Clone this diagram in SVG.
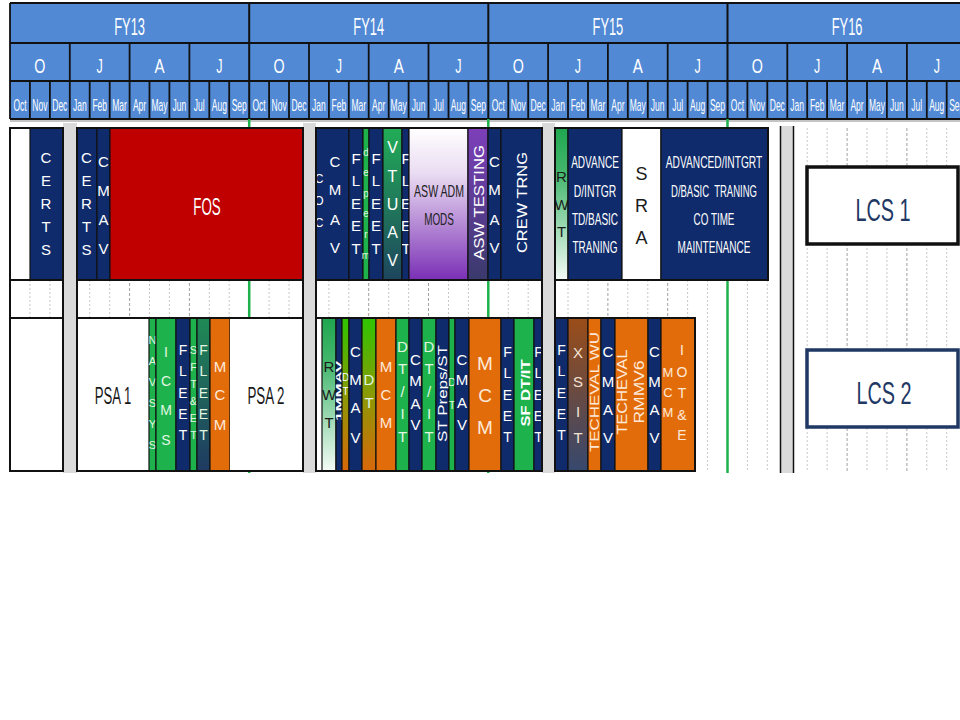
<svg xmlns="http://www.w3.org/2000/svg" width="960" height="720" viewBox="0 0 960 720">
<defs>
<style>
text{font-family:"Liberation Sans",Arial,sans-serif}
.c{text-anchor:middle}
.w{fill:#ffffff}
.dk{fill:#1a1a1a}
.lg{fill:#e2f6e2}
.lo{fill:#fde9d9}
.mo{font-size:17px;fill:#ffffff;text-anchor:middle}
.qt{font-size:21px;fill:#ffffff;text-anchor:middle}
.fy{font-size:23px;fill:#ffffff;text-anchor:middle}
.s10{font-size:10px}.s11{font-size:11px}.s12{font-size:12px}.s13{font-size:13px}.s14{font-size:14px}.s15{font-size:15px}.s16{font-size:16px}.s17{font-size:17px}.s18{font-size:18px}.s19{font-size:19px}
.seg{stroke:#111;stroke-width:1.2}
.nv{fill:#0f2b6b}
.gr{fill:#1db24c}
.or{fill:#e36c0a}
.grid{stroke:#c8c8c8;stroke-width:1;stroke-dasharray:2 2;fill:none}
.gridq{stroke:#a0a0a0;stroke-width:1;stroke-dasharray:3 2;fill:none}
.sep{fill:#dadada}
.box{fill:none;stroke:#111;stroke-width:2}
.hl{stroke:#111;fill:none}
</style>
<linearGradient id="gVT" x1="0" y1="0" x2="0" y2="1"><stop offset="0" stop-color="#22ad57"/><stop offset="1" stop-color="#1e455e"/></linearGradient>
<linearGradient id="gMODS" x1="0" y1="0" x2="0" y2="1"><stop offset="0" stop-color="#ffffff"/><stop offset="0.3" stop-color="#eadcf2"/><stop offset="1" stop-color="#7a2fb5"/></linearGradient>
<linearGradient id="gTEST" x1="0" y1="0" x2="0" y2="1"><stop offset="0" stop-color="#7d3fba"/><stop offset="1" stop-color="#3a3a6c"/></linearGradient>
<linearGradient id="gRWT" x1="0" y1="0" x2="0" y2="1"><stop offset="0" stop-color="#1fa64f"/><stop offset="0.3" stop-color="#45b76e"/><stop offset="1" stop-color="#f4fbf6"/></linearGradient>
<linearGradient id="gGO" x1="0" y1="0" x2="0" y2="1"><stop offset="0" stop-color="#2ec400"/><stop offset="0.5" stop-color="#8a9a05"/><stop offset="1" stop-color="#d8670a"/></linearGradient>
<linearGradient id="gTEAL" x1="0" y1="0" x2="0" y2="1"><stop offset="0" stop-color="#1f8a55"/><stop offset="1" stop-color="#1f3a62"/></linearGradient>
<linearGradient id="gXS" x1="0" y1="0" x2="0" y2="1"><stop offset="0" stop-color="#9b4d18"/><stop offset="1" stop-color="#36486e"/></linearGradient>
<clipPath id="cpCOC"><rect x="316" y="128" width="33" height="152"/></clipPath>
<clipPath id="cpFL3"><rect x="402" y="128" width="7" height="152"/></clipPath>
<clipPath id="cpFLb"><rect x="534" y="318" width="8" height="153"/></clipPath>
</defs>

<rect x="0" y="0" width="960" height="720" fill="#ffffff"/>

<g id="header">
<rect x="10" y="3" width="952" height="116" fill="#5189d5"/>
<path class="hl" stroke-width="1.8" d="M10 3H960M10 43H960M10 81H960M10 119H960M10 3V119"/>
<path class="hl" stroke-width="2" d="M249.2 3V119M488.3 3V119M727.5 3V119"/>
<path class="hl" stroke-width="1.8" d="M69.8 43V119M129.6 43V119M189.4 43V119M309 43V119M368.7 43V119M428.5 43V119M548.1 43V119M607.9 43V119M667.7 43V119M787.3 43V119M847.1 43V119M906.9 43V119"/>
<path class="hl" stroke-width="1.8" d="M29.9 81V119M49.9 81V119M89.7 81V119M109.7 81V119M149.5 81V119M169.4 81V119M209.3 81V119M229.2 81V119M269.1 81V119M289 81V119M328.9 81V119M348.8 81V119M388.7 81V119M408.6 81V119M448.5 81V119M468.4 81V119M508.3 81V119M528.2 81V119M568 81V119M588 81V119M627.8 81V119M647.8 81V119M687.6 81V119M707.6 81V119M747.4 81V119M767.3 81V119M807.2 81V119M827.1 81V119M867 81V119M886.9 81V119M926.8 81V119M946.7 81V119"/>
<text class="fy" transform="translate(129.6 35) scale(0.56 1)">FY13</text>
<text class="fy" transform="translate(368.7 35) scale(0.56 1)">FY14</text>
<text class="fy" transform="translate(607.9 35) scale(0.56 1)">FY15</text>
<text class="fy" transform="translate(847.1 35) scale(0.56 1)">FY16</text>
<text class="qt" transform="translate(39.9 73) scale(0.68 1)">O</text>
<text class="qt" transform="translate(99.7 73) scale(0.6 1)">J</text>
<text class="qt" transform="translate(159.5 73) scale(0.72 1)">A</text>
<text class="qt" transform="translate(219.3 73) scale(0.6 1)">J</text>
<text class="qt" transform="translate(279.1 73) scale(0.68 1)">O</text>
<text class="qt" transform="translate(338.9 73) scale(0.6 1)">J</text>
<text class="qt" transform="translate(398.7 73) scale(0.72 1)">A</text>
<text class="qt" transform="translate(458.5 73) scale(0.6 1)">J</text>
<text class="qt" transform="translate(518.2 73) scale(0.68 1)">O</text>
<text class="qt" transform="translate(578 73) scale(0.6 1)">J</text>
<text class="qt" transform="translate(637.8 73) scale(0.72 1)">A</text>
<text class="qt" transform="translate(697.6 73) scale(0.6 1)">J</text>
<text class="qt" transform="translate(757.4 73) scale(0.68 1)">O</text>
<text class="qt" transform="translate(817.2 73) scale(0.6 1)">J</text>
<text class="qt" transform="translate(877 73) scale(0.72 1)">A</text>
<text class="qt" transform="translate(936.8 73) scale(0.6 1)">J</text>
<text class="mo" transform="translate(20 111) scale(0.5 1)">Oct</text>
<text class="mo" transform="translate(39.9 111) scale(0.5 1)">Nov</text>
<text class="mo" transform="translate(59.8 111) scale(0.5 1)">Dec</text>
<text class="mo" transform="translate(79.8 111) scale(0.5 1)">Jan</text>
<text class="mo" transform="translate(99.7 111) scale(0.5 1)">Feb</text>
<text class="mo" transform="translate(119.6 111) scale(0.5 1)">Mar</text>
<text class="mo" transform="translate(139.5 111) scale(0.5 1)">Apr</text>
<text class="mo" transform="translate(159.5 111) scale(0.5 1)">May</text>
<text class="mo" transform="translate(179.4 111) scale(0.5 1)">Jun</text>
<text class="mo" transform="translate(199.3 111) scale(0.5 1)">Jul</text>
<text class="mo" transform="translate(219.3 111) scale(0.5 1)">Aug</text>
<text class="mo" transform="translate(239.2 111) scale(0.5 1)">Sep</text>
<text class="mo" transform="translate(259.1 111) scale(0.5 1)">Oct</text>
<text class="mo" transform="translate(279.1 111) scale(0.5 1)">Nov</text>
<text class="mo" transform="translate(299 111) scale(0.5 1)">Dec</text>
<text class="mo" transform="translate(318.9 111) scale(0.5 1)">Jan</text>
<text class="mo" transform="translate(338.8 111) scale(0.5 1)">Feb</text>
<text class="mo" transform="translate(358.8 111) scale(0.5 1)">Mar</text>
<text class="mo" transform="translate(378.7 111) scale(0.5 1)">Apr</text>
<text class="mo" transform="translate(398.6 111) scale(0.5 1)">May</text>
<text class="mo" transform="translate(418.6 111) scale(0.5 1)">Jun</text>
<text class="mo" transform="translate(438.5 111) scale(0.5 1)">Jul</text>
<text class="mo" transform="translate(458.4 111) scale(0.5 1)">Aug</text>
<text class="mo" transform="translate(478.4 111) scale(0.5 1)">Sep</text>
<text class="mo" transform="translate(498.3 111) scale(0.5 1)">Oct</text>
<text class="mo" transform="translate(518.2 111) scale(0.5 1)">Nov</text>
<text class="mo" transform="translate(538.1 111) scale(0.5 1)">Dec</text>
<text class="mo" transform="translate(558.1 111) scale(0.5 1)">Jan</text>
<text class="mo" transform="translate(578 111) scale(0.5 1)">Feb</text>
<text class="mo" transform="translate(597.9 111) scale(0.5 1)">Mar</text>
<text class="mo" transform="translate(617.9 111) scale(0.5 1)">Apr</text>
<text class="mo" transform="translate(637.8 111) scale(0.5 1)">May</text>
<text class="mo" transform="translate(657.7 111) scale(0.5 1)">Jun</text>
<text class="mo" transform="translate(677.7 111) scale(0.5 1)">Jul</text>
<text class="mo" transform="translate(697.6 111) scale(0.5 1)">Aug</text>
<text class="mo" transform="translate(717.5 111) scale(0.5 1)">Sep</text>
<text class="mo" transform="translate(737.4 111) scale(0.5 1)">Oct</text>
<text class="mo" transform="translate(757.4 111) scale(0.5 1)">Nov</text>
<text class="mo" transform="translate(777.3 111) scale(0.5 1)">Dec</text>
<text class="mo" transform="translate(797.2 111) scale(0.5 1)">Jan</text>
<text class="mo" transform="translate(817.2 111) scale(0.5 1)">Feb</text>
<text class="mo" transform="translate(837.1 111) scale(0.5 1)">Mar</text>
<text class="mo" transform="translate(857 111) scale(0.5 1)">Apr</text>
<text class="mo" transform="translate(877 111) scale(0.5 1)">May</text>
<text class="mo" transform="translate(896.9 111) scale(0.5 1)">Jun</text>
<text class="mo" transform="translate(916.8 111) scale(0.5 1)">Jul</text>
<text class="mo" transform="translate(936.7 111) scale(0.5 1)">Aug</text>
<text class="mo" transform="translate(956.7 111) scale(0.5 1)">Sep</text>
</g>

<g id="grid">
<line x1="10" y1="121" x2="960" y2="121" stroke="#b0b0b0" stroke-width="1.5"/>
<path class="grid" d="M29.9 128V472M49.9 128V472M89.7 128V472M109.7 128V472M149.5 128V472M169.4 128V472M209.3 128V472M229.2 128V472M269.1 128V472M289 128V472M328.9 128V472M348.8 128V472M388.7 128V472M408.6 128V472M448.5 128V472M468.4 128V472M508.3 128V472M528.2 128V472M568 128V472M588 128V472M627.8 128V472M647.8 128V472M687.6 128V472M707.6 128V472M747.4 128V472M767.3 128V472M807.2 128V472M827.1 128V472M867 128V472M886.9 128V472M926.8 128V472M946.7 128V472"/>
<path class="gridq" d="M69.8 128V472M129.6 128V472M189.4 128V472M309 128V472M368.7 128V472M428.5 128V472M548.1 128V472M607.9 128V472M667.7 128V472M787.3 128V472M847.1 128V472M906.9 128V472"/>
<path d="M249.2 119V473M488.3 119V473M727.5 119V473" stroke="#1db24c" stroke-width="2.5" fill="none"/>
<rect class="sep" x="63" y="123" width="14" height="350"/>
<rect class="sep" x="303" y="123" width="13" height="350"/>
<rect class="sep" x="542" y="123" width="13" height="350"/>
<rect class="sep" x="780.5" y="126" width="13" height="347"/>
<path class="hl" stroke-width="1.5" d="M780.5 126V473M793.5 126V473"/>
</g>

<g id="group-a">
<rect x="10" y="128" width="20" height="152" fill="#ffffff"/>
<rect x="10" y="318" width="53" height="153" fill="#ffffff"/>
<g id="a-certs"><rect class="seg nv" x="30" y="128" width="33" height="152"/>
<text class="w s15 c"><tspan x="46" y="163">C</tspan><tspan x="46" y="186">E</tspan><tspan x="46" y="209">R</tspan><tspan x="46" y="232">T</tspan><tspan x="46" y="255">S</tspan></text></g>
<rect class="box" x="10" y="128" width="53" height="343"/>
<path class="hl" stroke-width="2" d="M10 280H63M10 318H63"/>
</g>

<g id="group-b">
<g id="b-certs"><rect class="seg nv" x="77" y="128" width="20" height="152"/>
<text class="w s15 c"><tspan x="86.5" y="163">C</tspan><tspan x="86.5" y="186">E</tspan><tspan x="86.5" y="209">R</tspan><tspan x="86.5" y="232">T</tspan><tspan x="86.5" y="255">S</tspan></text></g>
<g id="b-cmav"><rect class="seg nv" x="97" y="128" width="13" height="152"/>
<text class="w s15 c"><tspan x="103.5" y="167">C</tspan><tspan x="103.5" y="196">M</tspan><tspan x="103.5" y="225">A</tspan><tspan x="103.5" y="254">V</tspan></text></g>
<g id="b-fos"><rect class="seg" fill="#c00000" x="110" y="128" width="193" height="152"/>
<text class="w c" font-size="23" transform="translate(207 215) scale(0.58 1)">FOS</text></g>

<g id="b-psa1"><rect x="77" y="318" width="72" height="153" fill="#ffffff"/>
<text class="dk c" font-size="23" transform="translate(113 404) scale(0.57 1)">PSA 1</text></g>
<g id="b-navsys"><rect class="seg gr" x="149" y="318" width="7" height="153"/>
<text class="lg s11 c"><tspan x="152.5" y="344">N</tspan><tspan x="152.5" y="365">A</tspan><tspan x="152.5" y="386">V</tspan><tspan x="152.5" y="407">S</tspan><tspan x="152.5" y="428">Y</tspan><tspan x="152.5" y="449">S</tspan></text></g>
<g id="b-icms"><rect class="seg gr" x="156" y="318" width="20" height="153"/>
<text class="lg s14 c"><tspan x="166" y="357">I</tspan><tspan x="166" y="386">C</tspan><tspan x="166" y="415">M</tspan><tspan x="166" y="445">S</tspan></text></g>
<g id="b-fleet1"><rect class="seg nv" x="176" y="318" width="14" height="153"/>
<text class="w s14 c"><tspan x="183" y="355">F</tspan><tspan x="183" y="376">L</tspan><tspan x="183" y="397.5">E</tspan><tspan x="183" y="419">E</tspan><tspan x="183" y="440">T</tspan></text></g>
<g id="b-sftet"><rect class="seg gr" x="190" y="318" width="7" height="153"/>
<text class="lg s11 c"><tspan x="193.5" y="354">S</tspan><tspan x="193.5" y="371">F</tspan><tspan x="193.5" y="388">T</tspan><tspan x="193.5" y="405">&amp;</tspan><tspan x="193.5" y="422">E</tspan><tspan x="193.5" y="439">T</tspan></text></g>
<g id="b-fleet2"><rect class="seg" fill="url(#gTEAL)" x="197" y="318" width="13" height="153"/>
<text class="lg s14 c"><tspan x="203.5" y="355">F</tspan><tspan x="203.5" y="376">L</tspan><tspan x="203.5" y="397.5">E</tspan><tspan x="203.5" y="419">E</tspan><tspan x="203.5" y="440">T</tspan></text></g>
<g id="b-mcm"><rect class="seg or" x="210" y="318" width="20" height="153"/>
<text class="lo s15 c"><tspan x="220" y="372">M</tspan><tspan x="220" y="400">C</tspan><tspan x="220" y="430">M</tspan></text></g>
<g id="b-psa2"><rect x="230" y="318" width="73" height="153" fill="#ffffff"/>
<text class="dk c" font-size="23" transform="translate(266 404) scale(0.58 1)">PSA 2</text></g>
<rect class="box" x="77" y="128" width="226" height="343"/>
<path class="hl" stroke-width="2" d="M77 280H303M77 318H303"/>
</g>

<g id="group-c">
<g id="c-coc-cmav"><rect class="seg nv" x="316" y="128" width="33" height="152"/>
<text class="w s12 c" clip-path="url(#cpCOC)"><tspan x="319" y="183">C</tspan><tspan x="319" y="205">O</tspan><tspan x="319" y="227">C</tspan></text>
<text class="w s15 c"><tspan x="335" y="167">C</tspan><tspan x="335" y="195">M</tspan><tspan x="335" y="225">A</tspan><tspan x="335" y="253">V</tspan></text></g>
<g id="c-fleet1"><rect class="seg nv" x="349" y="128" width="14" height="152"/>
<text class="w s15 c"><tspan x="356" y="163.5">F</tspan><tspan x="356" y="186">L</tspan><tspan x="356" y="208.5">E</tspan><tspan x="356" y="231">E</tspan><tspan x="356" y="253.5">T</tspan></text></g>
<g id="c-deperm"><rect class="seg gr" x="363" y="128" width="6" height="152"/>
<text class="lg s10 c"><tspan x="366" y="155.6">d</tspan><tspan x="366" y="176.2">e</tspan><tspan x="366" y="196.8">p</tspan><tspan x="366" y="217.4">e</tspan><tspan x="366" y="238">r</tspan><tspan x="366" y="258.6">m</tspan></text></g>
<g id="c-fleet2"><rect class="seg nv" x="369" y="128" width="14" height="152"/>
<text class="w s15 c"><tspan x="376" y="163.5">F</tspan><tspan x="376" y="186">L</tspan><tspan x="376" y="208.5">E</tspan><tspan x="376" y="231">E</tspan><tspan x="376" y="253.5">T</tspan></text></g>
<g id="c-vtuav"><rect class="seg" fill="url(#gVT)" x="383" y="128" width="19" height="152"/>
<text class="w s16 c"><tspan x="392.5" y="153">V</tspan><tspan x="392.5" y="182">T</tspan><tspan x="392.5" y="210">U</tspan><tspan x="392.5" y="238">A</tspan><tspan x="392.5" y="266">V</tspan></text></g>
<g id="c-fleet3"><rect class="seg nv" x="402" y="128" width="7" height="152"/>
<text class="w s15 c" clip-path="url(#cpFL3)"><tspan x="406" y="163.5">F</tspan><tspan x="406" y="186">L</tspan><tspan x="406" y="208.5">E</tspan><tspan x="406" y="231">E</tspan><tspan x="406" y="253.5">T</tspan></text></g>
<g id="c-aswadm"><rect class="seg" fill="url(#gMODS)" x="409" y="128" width="59" height="152"/>
<text class="c" fill="#222" font-size="16" transform="translate(439 197) scale(0.66 1)">ASW ADM</text>
<text class="c" fill="#222" font-size="16" transform="translate(439 225) scale(0.62 1)">MODS</text></g>
<g id="c-aswtest"><rect class="seg" fill="url(#gTEST)" x="468" y="128" width="20" height="152"/>
<text class="w s14 c" transform="translate(484 202.5) rotate(-90)" textLength="115" lengthAdjust="spacingAndGlyphs">ASW TESTING</text></g>
<g id="c-cmav2"><rect class="seg nv" x="488" y="128" width="13" height="152"/>
<text class="w s15 c"><tspan x="494.5" y="167">C</tspan><tspan x="494.5" y="195">M</tspan><tspan x="494.5" y="225">A</tspan><tspan x="494.5" y="253">V</tspan></text></g>
<g id="c-crew"><rect class="seg nv" x="501" y="128" width="41" height="152"/>
<text class="w s14 c" transform="translate(527 202.5) rotate(-90)" textLength="101" lengthAdjust="spacingAndGlyphs">CREW TRNG</text></g>

<rect x="316" y="318" width="6" height="153" fill="#ffffff"/>
<g id="c-rwt"><rect class="seg" fill="url(#gRWT)" x="322" y="318" width="14" height="153"/>
<text class="dk s15 c"><tspan x="329" y="372">R</tspan><tspan x="329" y="400">W</tspan><tspan x="329" y="428">T</tspan></text></g>
<g id="c-mmav"><rect class="seg nv" x="336" y="318" width="6" height="153"/>
<text class="w c" font-size="9" font-weight="bold" transform="translate(342 391) rotate(-90)" textLength="60" lengthAdjust="spacingAndGlyphs">1MMAV</text></g>
<g id="c-dt1"><rect class="seg" fill="url(#gGO)" x="342" y="318" width="7" height="153"/>
<text class="w s10 c"><tspan x="345.5" y="381">D</tspan><tspan x="345.5" y="395">T</tspan></text></g>
<g id="c-cmav3"><rect class="seg nv" x="349" y="318" width="13" height="153"/>
<text class="w s15 c"><tspan x="355.5" y="357">C</tspan><tspan x="355.5" y="385">M</tspan><tspan x="355.5" y="413">A</tspan><tspan x="355.5" y="443">V</tspan></text></g>
<g id="c-dt2"><rect class="seg" fill="url(#gGO)" x="362" y="318" width="14" height="153"/>
<text class="lg s15 c"><tspan x="369" y="385">D</tspan><tspan x="369" y="408">T</tspan></text></g>
<g id="c-mcm1"><rect class="seg or" x="376" y="318" width="20" height="153"/>
<text class="lo s15 c"><tspan x="386" y="372">M</tspan><tspan x="386" y="400">C</tspan><tspan x="386" y="428">M</tspan></text></g>
<g id="c-dtit1"><rect class="seg gr" x="396" y="318" width="13" height="153"/>
<text class="lg s15 c"><tspan x="402.5" y="352">D</tspan><tspan x="402.5" y="374">T</tspan><tspan x="402.5" y="397">/</tspan><tspan x="402.5" y="419">I</tspan><tspan x="402.5" y="442">T</tspan></text></g>
<g id="c-cmav4"><rect class="seg nv" x="409" y="318" width="13" height="153"/>
<text class="w s15 c"><tspan x="415.5" y="365">C</tspan><tspan x="415.5" y="386">M</tspan><tspan x="415.5" y="409">A</tspan><tspan x="415.5" y="430">V</tspan></text></g>
<g id="c-dtit2"><rect class="seg gr" x="422" y="318" width="14" height="153"/>
<text class="lg s15 c"><tspan x="429" y="352">D</tspan><tspan x="429" y="374">T</tspan><tspan x="429" y="397">/</tspan><tspan x="429" y="419">I</tspan><tspan x="429" y="442">T</tspan></text></g>
<g id="c-stpreps"><rect class="seg nv" x="436" y="318" width="13" height="153"/>
<text class="w s13 c" transform="translate(447 393.5) rotate(-90)" textLength="97" lengthAdjust="spacingAndGlyphs">ST Preps/ST</text></g>
<g id="c-dt3"><rect class="seg gr" x="449" y="318" width="6" height="153"/>
<text class="lg s11 c"><tspan x="452" y="386">D</tspan><tspan x="452" y="409">T</tspan></text></g>
<g id="c-cmav5"><rect class="seg nv" x="455" y="318" width="14" height="153"/>
<text class="w s15 c"><tspan x="462" y="365">C</tspan><tspan x="462" y="385">M</tspan><tspan x="462" y="408">A</tspan><tspan x="462" y="430">V</tspan></text></g>
<g id="c-mcm2"><rect class="seg or" x="469" y="318" width="32" height="153"/>
<text class="lo s19 c"><tspan x="485" y="370">M</tspan><tspan x="485" y="402">C</tspan><tspan x="485" y="434">M</tspan></text></g>
<g id="c-fleet4"><rect class="seg nv" x="501" y="318" width="13" height="153"/>
<text class="w s14 c"><tspan x="507.5" y="357">F</tspan><tspan x="507.5" y="378">L</tspan><tspan x="507.5" y="399.5">E</tspan><tspan x="507.5" y="421">E</tspan><tspan x="507.5" y="442">T</tspan></text></g>
<g id="c-sfdtit"><rect class="seg gr" x="514" y="318" width="20" height="153"/>
<text class="w s13 c" font-weight="bold" transform="translate(530 393) rotate(-90)" textLength="67" lengthAdjust="spacingAndGlyphs">SF DT/IT</text></g>
<g id="c-fleet5"><rect class="seg nv" x="534" y="318" width="8" height="153"/>
<text class="w s14 c" clip-path="url(#cpFLb)"><tspan x="538.5" y="357">F</tspan><tspan x="538.5" y="378">L</tspan><tspan x="538.5" y="399.5">E</tspan><tspan x="538.5" y="421">E</tspan><tspan x="538.5" y="442">T</tspan></text></g>
<rect class="box" x="316" y="128" width="226" height="343"/>
<path class="hl" stroke-width="2" d="M316 280H542M316 318H542"/>
</g>

<g id="group-d">
<g id="d-rwt"><rect class="seg" fill="url(#gRWT)" x="555" y="128" width="13" height="152"/>
<text class="dk s15 c"><tspan x="561.5" y="182">R</tspan><tspan x="561.5" y="210">W</tspan><tspan x="561.5" y="237">T</tspan></text></g>
<g id="d-adv1"><rect class="seg nv" x="568" y="128" width="54" height="152"/>
<text class="w s17 c" transform="translate(595 168) scale(0.59 1)">ADVANCE</text>
<text class="w s17 c" transform="translate(595 197) scale(0.61 1)">D/INTGR</text>
<text class="w s17 c" transform="translate(595 225) scale(0.59 1)">TD/BASIC</text>
<text class="w s17 c" transform="translate(595 253) scale(0.59 1)">TRANING</text></g>
<g id="d-sra"><rect class="seg" fill="#ffffff" x="622" y="128" width="39" height="152"/>
<text class="dk s18 c"><tspan x="641.5" y="179.5">S</tspan><tspan x="641.5" y="211.5">R</tspan><tspan x="641.5" y="243.5">A</tspan></text></g>
<g id="d-adv2"><rect class="seg nv" x="661" y="128" width="107" height="152"/>
<text class="w s17 c" transform="translate(714 168) scale(0.6 1)">ADVANCED/INTGRT</text>
<text class="w s17 c" transform="translate(714 197) scale(0.56 1)" xml:space="preserve">D/BASIC  TRANING</text>
<text class="w s17 c" transform="translate(714 225) scale(0.58 1)">CO TIME</text>
<text class="w s17 c" transform="translate(714 253) scale(0.59 1)">MAINTENANCE</text></g>

<g id="d-fleet"><rect class="seg nv" x="555" y="318" width="13" height="153"/>
<text class="w s14 c"><tspan x="561.5" y="355">F</tspan><tspan x="561.5" y="376">L</tspan><tspan x="561.5" y="397.5">E</tspan><tspan x="561.5" y="419">E</tspan><tspan x="561.5" y="440">T</tspan></text></g>
<g id="d-xsit"><rect class="seg" fill="url(#gXS)" x="568" y="318" width="20" height="153"/>
<text class="s15 c" fill="#f3e3d3"><tspan x="578" y="358">X</tspan><tspan x="578" y="387">S</tspan><tspan x="578" y="417">I</tspan><tspan x="578" y="443">T</tspan></text></g>
<g id="d-techwu"><rect class="seg or" x="588" y="318" width="13" height="153"/>
<text class="lo s13 c" transform="translate(599 392) rotate(-90)" textLength="120" lengthAdjust="spacingAndGlyphs">TECHEVAL WU</text></g>
<g id="d-cmav1"><rect class="seg nv" x="601" y="318" width="14" height="153"/>
<text class="w s15 c"><tspan x="608" y="357">C</tspan><tspan x="608" y="387">M</tspan><tspan x="608" y="415">A</tspan><tspan x="608" y="443">V</tspan></text></g>
<g id="d-techrmmv"><rect class="seg or" x="615" y="318" width="33" height="153"/>
<text class="lo s14 c" transform="translate(627 392) rotate(-90)" textLength="85" lengthAdjust="spacingAndGlyphs">TECHEVAL</text>
<text class="lo s14 c" transform="translate(644 392) rotate(-90)" textLength="63" lengthAdjust="spacingAndGlyphs">RMMV6</text></g>
<g id="d-cmav2"><rect class="seg nv" x="648" y="318" width="13" height="153"/>
<text class="w s15 c"><tspan x="654.5" y="357">C</tspan><tspan x="654.5" y="387">M</tspan><tspan x="654.5" y="415">A</tspan><tspan x="654.5" y="443">V</tspan></text></g>
<g id="d-mcmiote"><rect class="seg or" x="661" y="318" width="34" height="153"/>
<text class="lo s13 c"><tspan x="668" y="377">M</tspan><tspan x="668" y="397">C</tspan><tspan x="668" y="417">M</tspan></text>
<text class="lo s14 c"><tspan x="682" y="355">I</tspan><tspan x="682" y="377">O</tspan><tspan x="682" y="398">T</tspan><tspan x="682" y="420">&amp;</tspan><tspan x="682" y="440">E</tspan></text></g>
<rect class="box" x="555" y="128" width="213" height="152"/>
<rect class="box" x="555" y="318" width="140" height="153"/>
<path class="hl" stroke-width="2" d="M555 128V471"/>
</g>

<g id="lcs1">
<rect x="807" y="167" width="151" height="77" fill="#ffffff" stroke="#111" stroke-width="3.5"/>
<text class="c" fill="#1f3864" font-size="32" transform="translate(883 221) scale(0.62 1)">LCS 1</text>
</g>
<g id="lcs2">
<rect x="807" y="350" width="151" height="77" fill="#ffffff" stroke="#1f3864" stroke-width="3.5"/>
<text class="c" fill="#1f3864" font-size="32" transform="translate(884 404) scale(0.62 1)">LCS 2</text>
</g>
<g id="connectors"></g>
</svg>
